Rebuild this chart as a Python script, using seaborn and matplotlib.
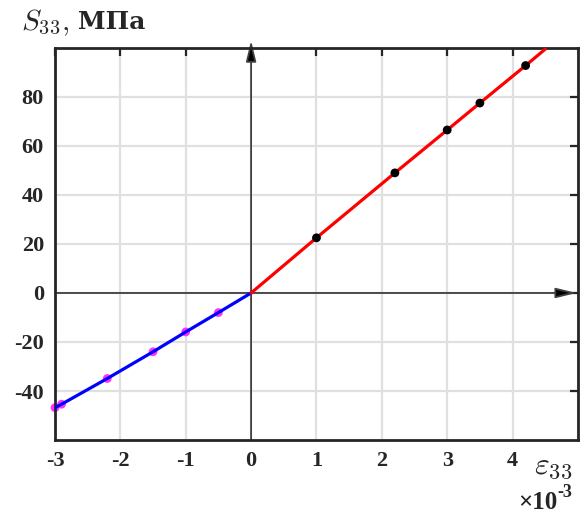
import matplotlib
matplotlib.use("Agg")
import matplotlib.pyplot as plt
import seaborn as sns
import pandas as pd

# strain (x 1e-3) and stress (MPa)
tension_line_x = [0.0, 1.0, 2.2, 3.0, 3.5, 4.2, 4.5]
tension_line_y = [0.0, 22.5, 49.0, 66.5, 77.5, 92.8, 99.5]
tension_pts_x = [1.0, 2.2, 3.0, 3.5, 4.2]
tension_pts_y = [22.5, 49.0, 66.5, 77.5, 92.8]

compress_line_x = [0.0, -0.5, -1.0, -1.5, -2.2, -2.9, -3.0]
compress_line_y = [0.0, -8.0, -15.9, -24.0, -34.9, -45.4, -46.8]
compress_pts_x = [-0.5, -1.0, -1.5, -2.2, -2.9, -3.0]
compress_pts_y = [-8.0, -15.9, -24.0, -34.9, -45.4, -46.8]

x_ticks = [-3, -2, -1, 0, 1, 2, 3, 4]
y_ticks = [-40, -20, 0, 20, 40, 60, 80]

sns.set_style("white")
plt.rcParams["font.family"] = ["Liberation Serif", "DejaVu Serif"]
plt.rcParams["mathtext.fontset"] = "cm"

fig = plt.figure(figsize=(5.82, 5.15), dpi=100)
ax = fig.add_axes([0.0945, 0.1456, 0.8985, 0.7614])

ax.set_xlim(-3, 5)
ax.set_ylim(-60, 100)

# grid
for xv in x_ticks + [5]:
    ax.axvline(xv, color="#e0e0e0", lw=1.6, zorder=0)
for yv in y_ticks + [100]:
    ax.axhline(yv, color="#e0e0e0", lw=1.6, zorder=0)

# coordinate axes through origin with arrows
arrow_style = "-|>,head_length=0.9,head_width=0.22"
ax.annotate("", xy=(0, 103), xytext=(0, -60),
            arrowprops=dict(arrowstyle=arrow_style, lw=1.3,
                            shrinkA=0, shrinkB=0, mutation_scale=14,
                            fc="black", ec="#404040"),
            annotation_clip=False, zorder=1)
ax.annotate("", xy=(4.98, 0), xytext=(-3, 0),
            arrowprops=dict(arrowstyle=arrow_style, lw=1.3,
                            shrinkA=0, shrinkB=0, mutation_scale=14,
                            fc="black", ec="#404040"),
            annotation_clip=False, zorder=1)

df_t = pd.DataFrame({"x": tension_line_x, "y": tension_line_y})
df_c = pd.DataFrame({"x": compress_line_x, "y": compress_line_y})
pt_t = pd.DataFrame({"x": tension_pts_x, "y": tension_pts_y})
pt_c = pd.DataFrame({"x": compress_pts_x, "y": compress_pts_y})

sns.scatterplot(data=pt_c, x="x", y="y", ax=ax, color="#ff33ff", s=40,
                edgecolor="none", zorder=2, clip_on=False)
sns.lineplot(data=df_c, x="x", y="y", ax=ax, color="#0000ff", lw=2.3,
             sort=False, estimator=None, zorder=3)
sns.lineplot(data=df_t, x="x", y="y", ax=ax, color="#ff0000", lw=2.3,
             sort=False, estimator=None, zorder=3)
sns.scatterplot(data=pt_t, x="x", y="y", ax=ax, color="black", s=40,
                edgecolor="none", zorder=4)

ax.set_xlabel("")
ax.set_ylabel("")
ax.set_xticks(x_ticks)
ax.set_yticks(y_ticks)
ax.set_xticklabels([str(t) for t in x_ticks], fontsize=16, fontweight="bold")
ax.set_yticklabels([str(t) for t in y_ticks], fontsize=16, fontweight="bold")
ax.tick_params(direction="in", length=6, width=1.6, top=True, right=True,
               color="#262626", pad=8)
for sp in ax.spines.values():
    sp.set_linewidth(2.0)
    sp.set_color("#262626")
    sp.set_visible(True)

# vertical axis caption
fig.text(0.036, 0.955, r"$S_{33},$", fontsize=21, ha="left", va="center")
fig.text(0.134, 0.957, "МПа", fontsize=18, fontweight="bold",
         family=["DejaVu Serif"], ha="left", va="center")
# horizontal axis caption and multiplier
fig.text(0.918, 0.094, r"$\varepsilon_{33}$", fontsize=23, ha="left",
         va="center")
fig.text(0.958, 0.024, "×10", fontsize=18, fontweight="bold",
         ha="right", va="center")
fig.text(0.958, 0.044, "-3", fontsize=13, fontweight="bold",
         ha="left", va="center")

fig.savefig("out.png", dpi=100)
